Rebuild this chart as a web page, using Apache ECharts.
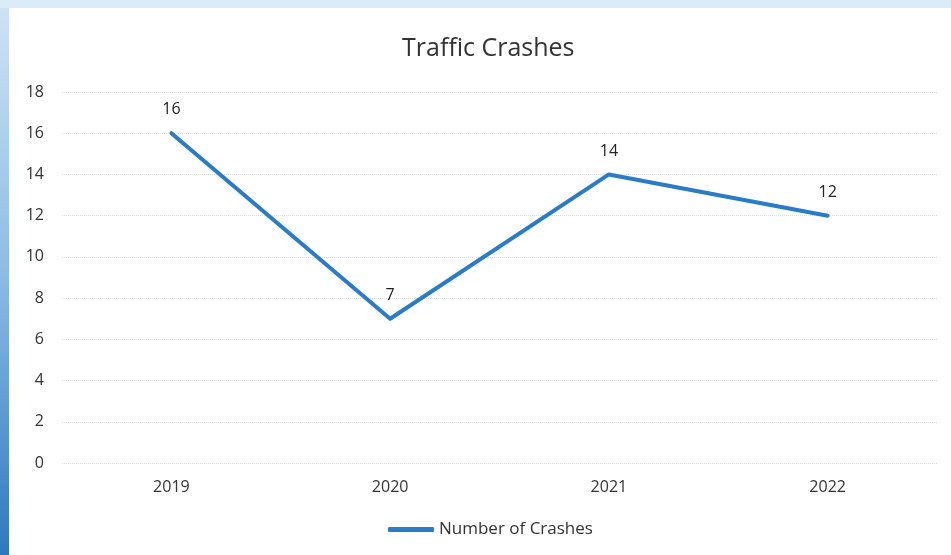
<!DOCTYPE html>
<html>
<head>
<meta charset="utf-8">
<script src="https://cdn.jsdelivr.net/npm/echarts@6/dist/echarts.min.js"></script>
<style>
  html, body { margin: 0; padding: 0; background: #fff; }
  #chart { width: 951px; height: 555px; }
</style>
</head>
<body>
<div id="chart"></div>
<script>
// chart data
var years = ['2019', '2020', '2021', '2022'];
var crashes = [16, 7, 14, 12];
var seriesName = 'Number of Crashes';

var chart = echarts.init(document.getElementById('chart'));
var font = 'Open Sans';
var option = {
  backgroundColor: '#ffffff',
  title: {
    text: 'Traffic Crashes',
    left: 397,
    top: 31,
    textStyle: { fontFamily: font, fontSize: 25, fontWeight: 'normal', color: '#333' }
  },
  graphic: [{
    // scanned page border, left strip
    type: 'rect',
    shape: { x: 0, y: 0, width: 9, height: 555 },
    style: {
      fill: new echarts.graphic.LinearGradient(0, 0, 0, 1, [
        { offset: 0, color: '#cfe3f5' },
        { offset: 0.5, color: '#8bbbe6' },
        { offset: 1, color: '#2f78bf' }
      ])
    },
    silent: true
  }, {
    type: 'rect',
    shape: { x: 0, y: 0, width: 951, height: 8 },
    style: { fill: '#dcebf8' },
    silent: true
  }],
  legend: {
    bottom: 12,
    left: 383,
    itemWidth: 46,
    itemHeight: 5,
    itemGap: 2,
    textStyle: { fontFamily: font, fontSize: 17, color: '#333' },
    data: [{ name: seriesName, icon: 'roundRect' }]
  },
  grid: { left: 62, right: 14, top: 92, bottom: 92 },
  xAxis: {
    type: 'category',
    data: years,
    axisLine: { show: false },
    axisTick: { show: false },
    axisLabel: { fontFamily: font, fontSize: 16, color: '#333', margin: 16 }
  },
  yAxis: {
    type: 'value',
    min: 0,
    max: 18,
    interval: 2,
    axisLine: { show: false },
    axisTick: { show: false },
    axisLabel: { fontFamily: font, fontSize: 16, color: '#333', margin: 18 },
    splitLine: { lineStyle: { color: '#dde3ea', width: 1, type: 'dotted' } }
  },
  series: [{
    name: seriesName,
    type: 'line',
    data: crashes,
    symbol: 'circle',
    symbolSize: 1,
    showSymbol: true,
    lineStyle: { color: '#2a7bc8', width: 4, cap: 'round', join: 'round' },
    itemStyle: { color: '#2a7bc8' },
    label: {
      show: true,
      position: 'top',
      distance: 15,
      fontFamily: font,
      fontSize: 16,
      color: '#222'
    }
  }]
};
chart.setOption(option);
</script>
</body>
</html>
